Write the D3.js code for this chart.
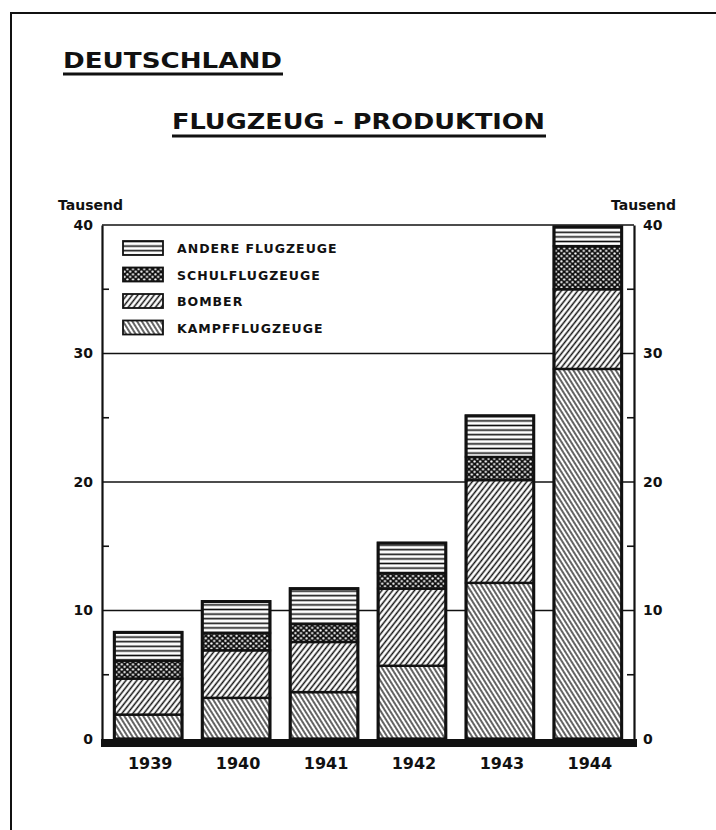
<!DOCTYPE html>
<html>
<head>
<meta charset="utf-8">
<script src="https://cdn.jsdelivr.net/npm/d3@7"></script>
<style>
  html, body { margin: 0; padding: 0; background: #fff; }
  svg { display: block; }
  text { font-family: "DejaVu Sans", sans-serif; font-weight: bold; fill: #111; }
</style>
</head>
<body>
<svg id="chart" width="716" height="830"></svg>
<script>
// ---- data (thousands of aircraft) ----
const years = ["1939", "1940", "1941", "1942", "1943", "1944"];
const kampfflugzeuge = [1.9, 3.2, 3.65, 5.7, 12.15, 28.8];
const bomber = [2.8, 3.7, 3.9, 6.0, 8.0, 6.2];
const schulflugzeuge = [1.4, 1.35, 1.4, 1.2, 1.8, 3.35];
const andereFlugzeuge = [2.2, 2.45, 2.75, 2.35, 3.2, 1.5];
const seriesKeys = ["kampf", "bomber", "schul", "andere"];
const seriesLabels = ["KAMPFFLUGZEUGE", "BOMBER", "SCHULFLUGZEUGE", "ANDERE FLUGZEUGE"];
const majorTicks = [0, 10, 20, 30, 40];
const minorTicks = [5, 15, 25, 35];
const title1 = "DEUTSCHLAND";
const title2 = "FLUGZEUG - PRODUKTION";
const unitLabel = "Tausend";

const rows = years.map((yr, i) => ({
  year: yr,
  kampf: kampfflugzeuge[i],
  bomber: bomber[i],
  schul: schulflugzeuge[i],
  andere: andereFlugzeuge[i]
}));

const svg = d3.select("#chart");
const ink = "#111";

// ---- patterns ----
const defs = svg.append("defs");
function linePattern(id, spacing, angle, sw) {
  const p = defs.append("pattern").attr("id", id)
    .attr("patternUnits", "userSpaceOnUse")
    .attr("width", spacing).attr("height", 10)
    .attr("patternTransform", `rotate(${angle})`);
  p.append("rect").attr("width", spacing).attr("height", 10).attr("fill", "#fff");
  p.append("line").attr("x1", spacing / 2).attr("x2", spacing / 2)
    .attr("y1", -1).attr("y2", 11).attr("stroke", ink).attr("stroke-width", sw);
}
linePattern("pat-kampf", 4.0, -32, 1.3);
linePattern("pat-bomber", 4.3, 38, 1.5);
const ph = defs.append("pattern").attr("id", "pat-andere")
  .attr("patternUnits", "userSpaceOnUse").attr("width", 10).attr("height", 4.6);
ph.append("rect").attr("width", 10).attr("height", 4.6).attr("fill", "#fff");
ph.append("line").attr("x1", -1).attr("x2", 11).attr("y1", 2.3).attr("y2", 2.3)
  .attr("stroke", ink).attr("stroke-width", 1.6);
const pd = defs.append("pattern").attr("id", "pat-schul")
  .attr("patternUnits", "userSpaceOnUse").attr("width", 5.6).attr("height", 5.2);
pd.append("rect").attr("width", 5.6).attr("height", 5.2).attr("fill", ink);
pd.append("circle").attr("cx", 1.4).attr("cy", 1.3).attr("r", 1.15).attr("fill", "#fff");
pd.append("circle").attr("cx", 4.2).attr("cy", 3.9).attr("r", 1.15).attr("fill", "#fff");

const fills = { kampf: "url(#pat-kampf)", bomber: "url(#pat-bomber)", schul: "url(#pat-schul)", andere: "url(#pat-andere)" };

// ---- frame ----
svg.append("path").attr("d", "M11,832 L11,13 L718,13")
  .attr("fill", "none").attr("stroke", ink).attr("stroke-width", 2);

// ---- titles ----
svg.append("text").attr("x", 63).attr("y", 68).attr("font-size", 21)
  .attr("textLength", 219).attr("lengthAdjust", "spacingAndGlyphs").text(title1);
svg.append("line").attr("x1", 63).attr("x2", 283).attr("y1", 74).attr("y2", 74)
  .attr("stroke", ink).attr("stroke-width", 3);
svg.append("text").attr("x", 172).attr("y", 129).attr("font-size", 21)
  .attr("textLength", 373).attr("lengthAdjust", "spacingAndGlyphs").text(title2);
svg.append("line").attr("x1", 172).attr("x2", 546).attr("y1", 136).attr("y2", 136)
  .attr("stroke", ink).attr("stroke-width", 3);

// ---- scales ----
const plotL = 102, plotR = 634, plotT = 225, plotB = 739;
const x = d3.scaleBand().domain(years).range([plotL, plotR]).paddingInner(0.23).paddingOuter(0.14);
const y = d3.scaleLinear().domain([0, 40]).range([plotB, plotT]);

// ---- grid lines ----
svg.append("g").selectAll("line").data(majorTicks.filter(d => d > 0)).join("line")
  .attr("x1", plotL).attr("x2", plotR).attr("y1", d => y(d)).attr("y2", d => y(d))
  .attr("stroke", ink).attr("stroke-width", 1.6);

// ---- axes (left / right) ----
const axL = d3.axisLeft(y).tickValues(majorTicks).tickSize(0).tickPadding(9).tickFormat(d3.format("d"));
const axR = d3.axisRight(y).tickValues(majorTicks).tickSize(0).tickPadding(9).tickFormat(d3.format("d"));
const gL = svg.append("g").attr("transform", `translate(${plotL},0)`).call(axL);
const gR = svg.append("g").attr("transform", `translate(${plotR},0)`).call(axR);
[gL, gR].forEach(g => {
  g.select(".domain").attr("stroke", ink).attr("stroke-width", 2.2);
  g.selectAll("text").attr("font-size", 14).attr("font-family", "DejaVu Sans").attr("font-weight", "bold").attr("fill", ink);
});
svg.append("g").selectAll("line").data(minorTicks).join("line")
  .attr("x1", plotL).attr("x2", plotL + 7).attr("y1", d => y(d)).attr("y2", d => y(d))
  .attr("stroke", ink).attr("stroke-width", 1.6);
svg.append("g").selectAll("line").data(minorTicks).join("line")
  .attr("x1", plotR - 7).attr("x2", plotR).attr("y1", d => y(d)).attr("y2", d => y(d))
  .attr("stroke", ink).attr("stroke-width", 1.6);

// unit labels
svg.append("text").attr("x", 58).attr("y", 210).attr("font-size", 14).text(unitLabel);
svg.append("text").attr("x", 676).attr("y", 210).attr("font-size", 14).attr("text-anchor", "end").text(unitLabel);

// ---- stacked bars ----
const stacked = d3.stack().keys(seriesKeys)(rows);
const gBars = svg.append("g");
stacked.forEach(layer => {
  gBars.append("g").selectAll("rect").data(layer).join("rect")
    .attr("x", d => x(d.data.year))
    .attr("width", x.bandwidth())
    .attr("y", d => y(d[1]))
    .attr("height", d => y(d[0]) - y(d[1]))
    .attr("fill", fills[layer.key])
    .attr("stroke", ink).attr("stroke-width", 2.4);
});
gBars.append("g").selectAll("rect").data(stacked[stacked.length - 1]).join("rect")
  .attr("x", d => x(d.data.year)).attr("width", x.bandwidth())
  .attr("y", d => y(d[1])).attr("height", d => y(0) - y(d[1]))
  .attr("fill", "none").attr("stroke", ink).attr("stroke-width", 3);

// ---- baseline band ----
svg.append("rect").attr("x", plotL - 1).attr("y", y(0)).attr("width", plotR - plotL + 4).attr("height", 8).attr("fill", ink);

// ---- year labels ----
svg.append("g").selectAll("text").data(years).join("text")
  .attr("x", d => x(d) + x.bandwidth() / 2 + 2).attr("y", 769)
  .attr("text-anchor", "middle").attr("font-size", 16).text(d => d);

// ---- legend ----
const legendOrder = seriesKeys.slice().reverse();
const lg = svg.append("g");
legendOrder.forEach((k, i) => {
  const yy = 241 + i * 26.5;
  lg.append("rect").attr("x", 123).attr("y", yy).attr("width", 40).attr("height", 14)
    .attr("fill", fills[k]).attr("stroke", ink).attr("stroke-width", 1.8);
  lg.append("text").attr("x", 177).attr("y", yy + 12).attr("font-size", 12.5)
    .attr("letter-spacing", 1).text(seriesLabels[seriesKeys.indexOf(k)]);
});
</script>
</body>
</html>
